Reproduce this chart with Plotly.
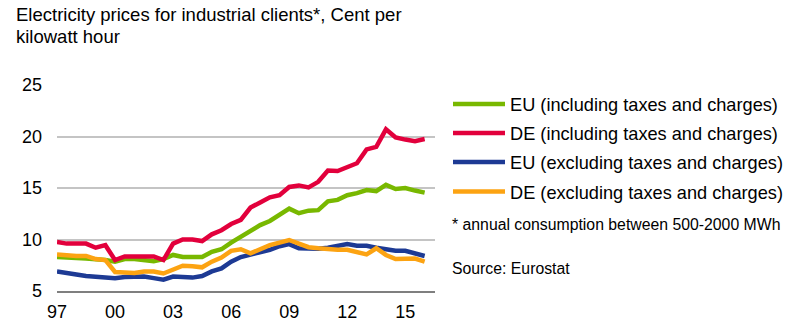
import plotly.graph_objects as go

# ---- data (semi-annual, 1997S1 .. 2016S1) ----
periods = [1997 + i / 2 for i in range(39)]
eu_incl = [8.3, 8.2, 8.2, 8.15, 8.1, 8.0, 7.85, 8.1, 8.1, 8.05, 7.9, 8.1, 8.5,
           8.3, 8.25, 8.3, 8.8, 9.05, 9.7, 10.25, 10.75, 11.4, 11.8, 12.4, 13.0,
           12.55, 12.8, 12.85, 13.7, 13.85, 14.3, 14.5, 14.8, 14.7, 15.3, 14.9,
           15.0, 14.75, 14.55]
de_incl = [9.75, 9.6, 9.6, 9.6, 9.2, 9.45, 8.0, 8.35, 8.35, 8.35, 8.35, 8.0, 9.6,
           10.0, 10.0, 9.85, 10.5, 10.9, 11.5, 11.9, 13.1, 13.6, 14.1, 14.3, 15.1,
           15.25, 15.05, 15.6, 16.7, 16.65, 17.05, 17.4, 18.75, 19.0, 20.7, 19.9,
           19.7, 19.55, 19.75]
eu_excl = [6.9, 6.7, 6.6, 6.45, 6.4, 6.35, 6.25, 6.35, 6.4, 6.4, 6.25, 6.1, 6.4,
           6.3, 6.3, 6.45, 6.9, 7.2, 7.85, 8.3, 8.5, 8.8, 9.0, 9.35, 9.55, 9.15,
           9.1, 9.1, 9.2, 9.35, 9.55, 9.4, 9.4, 9.2, 9.05, 8.9, 8.9, 8.7, 8.4]
de_excl = [8.55, 8.45, 8.4, 8.4, 8.1, 8.0, 6.85, 6.8, 6.75, 6.9, 6.9, 6.7, 7.1,
           7.45, 7.4, 7.3, 7.85, 8.25, 8.9, 9.05, 8.65, 9.1, 9.45, 9.7, 9.95, 9.6,
           9.25, 9.15, 9.05, 9.0, 9.0, 8.8, 8.55, 9.15, 8.5, 8.1, 8.1, 8.15, 7.85]

series_names = ["EU (including taxes and charges)", "DE (including taxes and charges)",
                "EU (excluding taxes and charges)", "DE (excluding taxes and charges)"]
series_values = [eu_incl, de_incl, eu_excl, de_excl]
series_colors = ["#78b800", "#e2003c", "#1d3a94", "#fca312"]

x_tickvals = [1997, 2000, 2003, 2006, 2009, 2012, 2015]
x_ticktext = ["97", "00", "03", "06", "09", "12", "15"]
y_tickvals = [5, 10, 15, 20, 25]

title_lines = ["Electricity prices for industrial clients*, Cent per", "kilowatt hour"]
footnote_text = "* annual consumption between 500-2000 MWh"
source_text = "Source: Eurostat"

# ---- layout geometry (pixels) ----
W, H = 793, 334
L, R, T, B = 57, 435, 85, 291
FONT = "Liberation Sans, Arial, sans-serif"


def px_x(px):
    return (px - L) / (R - L)


def px_y(py):
    return (B - py) / (B - T)


fig = go.Figure()
for name, vals, col in zip(series_names, series_values, series_colors):
    fig.add_trace(go.Scatter(x=periods, y=vals, mode="lines", name=name,
                             line=dict(color=col, width=4.5, shape="linear"),
                             showlegend=False, hoverinfo="skip"))

shapes = []
annotations = []

# title (two lines, reference line spacing)
for line, cy in zip(title_lines, [14.3, 36.6]):
    annotations.append(dict(text=line, x=px_x(14), y=px_y(cy), xref="paper", yref="paper",
                            xanchor="left", yanchor="middle", align="left", showarrow=False,
                            font=dict(family=FONT, size=18.5, color="#000000")))

# legend (manual)
legend_y = [104, 133, 162, 191.5]
for name, col, ly in zip(series_names, series_colors, legend_y):
    shapes.append(dict(type="line", xref="paper", yref="paper",
                       x0=px_x(453), x1=px_x(505), y0=px_y(ly), y1=px_y(ly),
                       line=dict(color=col, width=4.5)))
    annotations.append(dict(text=name, x=px_x(508), y=px_y(ly + 1), xref="paper", yref="paper",
                            xanchor="left", yanchor="middle", showarrow=False,
                            font=dict(family=FONT, size=18.2, color="#000000")))

annotations.append(dict(text=footnote_text, x=px_x(450), y=px_y(225), xref="paper", yref="paper",
                        xanchor="left", yanchor="middle", showarrow=False,
                        font=dict(family=FONT, size=15.8, color="#000000")))
annotations.append(dict(text=source_text, x=px_x(450), y=px_y(268), xref="paper", yref="paper",
                        xanchor="left", yanchor="middle", showarrow=False,
                        font=dict(family=FONT, size=15.8, color="#000000")))

fig.update_layout(
    width=W, height=H,
    margin=dict(l=L, r=W - R, t=T, b=H - B, pad=0),
    paper_bgcolor="white", plot_bgcolor="white",
    font=dict(family=FONT, size=18, color="#000000"),
    shapes=shapes, annotations=annotations,
    xaxis=dict(range=[1997, 1997 + (R - L) / 19.35], tickvals=x_tickvals, ticktext=x_ticktext,
               showgrid=False, zeroline=False, showline=True, linecolor="#7f7f7f",
               linewidth=1.5, ticks="", tickfont=dict(family=FONT, size=18, color="#000000"),
               ticklabelstandoff=4, fixedrange=True),
    yaxis=dict(range=[5, 25], tickvals=y_tickvals, showgrid=True, gridcolor="#c4c4c4",
               gridwidth=1.5, zeroline=False, showline=False, ticks="",
               tickfont=dict(family=FONT, size=18, color="#000000"),
               ticklabelstandoff=14, fixedrange=True),
)

fig.write_html("out.html")
